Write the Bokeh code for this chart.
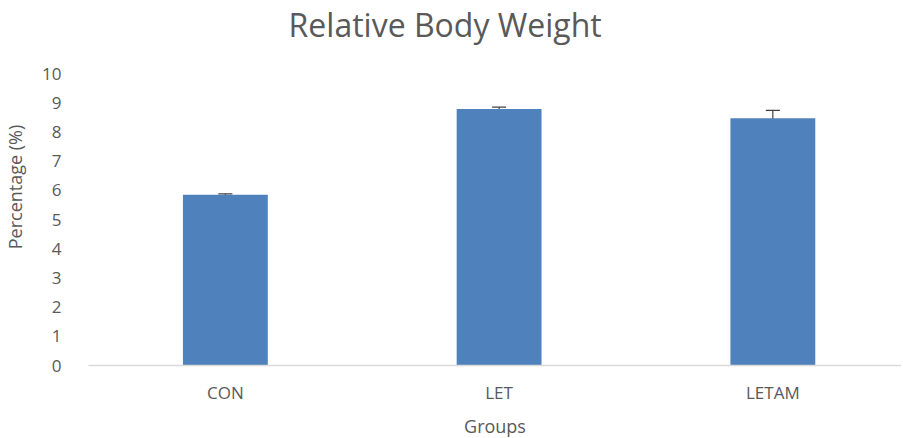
from bokeh.plotting import figure
from bokeh.models import Range1d, FixedTicker, Whisker, ColumnDataSource, TeeHead, Label
from bokeh.embed import file_html
from bokeh.resources import INLINE

title_text = "Relative Body Weight"
groups = ["CON", "LET", "LETAM"]
values = [5.85, 8.79, 8.47]
errors = [0.03, 0.06, 0.27]
y_ticks = [0, 1, 2, 3, 4, 5, 6, 7, 8, 9, 10]

xs = [i + 0.5 for i in range(len(groups))]
src = ColumnDataSource(dict(
    x=xs, top=values,
    upper=[v + e for v, e in zip(values, errors)],
    lower=[v - e for v, e in zip(values, errors)],
))

FONT = "Open Sans"
GRAY = "#595959"

# frame spans almost from the canvas top; the area above y=10 holds the title
p = figure(frame_width=813, frame_height=357, output_backend="svg", toolbar_location=None,
           x_range=Range1d(0, 2.97), y_range=Range1d(0, 12.23),
           min_border_left=82, min_border_right=0, min_border_top=8, min_border_bottom=73)
p.outline_line_color = None
p.background_fill_color = "white"
p.border_fill_color = "white"
p.xgrid.grid_line_color = None
p.ygrid.grid_line_color = None

p.vbar(x="x", top="top", width=0.31, bottom=0, source=src,
       fill_color="#4f81bd", line_color=None)

w = Whisker(base="x", upper="upper", lower="lower", source=src,
            line_color="#404040", line_width=1.2,
            upper_head=TeeHead(size=14, line_color="#404040", line_width=1.2),
            lower_head=TeeHead(size=14, line_color="#404040", line_width=1.2))
p.add_layout(w)

p.add_layout(Label(x=1.303, y=11.68, text=title_text, text_align="center",
                   text_baseline="middle", text_font=FONT, text_font_size="32px",
                   text_color=GRAY))

# x axis
p.xaxis.ticker = FixedTicker(ticks=xs)
p.xaxis.major_label_overrides = {x: g for x, g in zip(xs, groups)}
p.xaxis.axis_line_color = "#d9d9d9"
p.xaxis.axis_line_width = 1.5
p.xaxis.major_tick_line_color = None
p.xaxis.minor_tick_line_color = None
p.xaxis.major_label_text_font = FONT
p.xaxis.major_label_text_font_size = "17px"
p.xaxis.major_label_text_color = GRAY
p.xaxis.major_label_standoff = 9
p.xaxis.axis_label = "Groups"
p.xaxis.axis_label_text_font = FONT
p.xaxis.axis_label_text_font_size = "18px"
p.xaxis.axis_label_text_font_style = "normal"
p.xaxis.axis_label_text_color = GRAY
p.xaxis.axis_label_standoff = 7

# y axis
p.yaxis.ticker = FixedTicker(ticks=y_ticks)
p.yaxis.axis_line_color = None
p.yaxis.major_tick_line_color = None
p.yaxis.minor_tick_line_color = None
p.yaxis.major_label_text_font = FONT
p.yaxis.major_label_text_font_size = "17px"
p.yaxis.major_label_text_color = GRAY
p.yaxis.major_label_standoff = 21
p.yaxis.axis_label = "Percentage (%)"
p.yaxis.axis_label_text_font = FONT
p.yaxis.axis_label_text_font_size = "18px"
p.yaxis.axis_label_text_font_style = "normal"
p.yaxis.axis_label_text_color = GRAY
p.yaxis.axis_label_standoff = 12

open("out.html", "w").write(file_html(p, INLINE))
